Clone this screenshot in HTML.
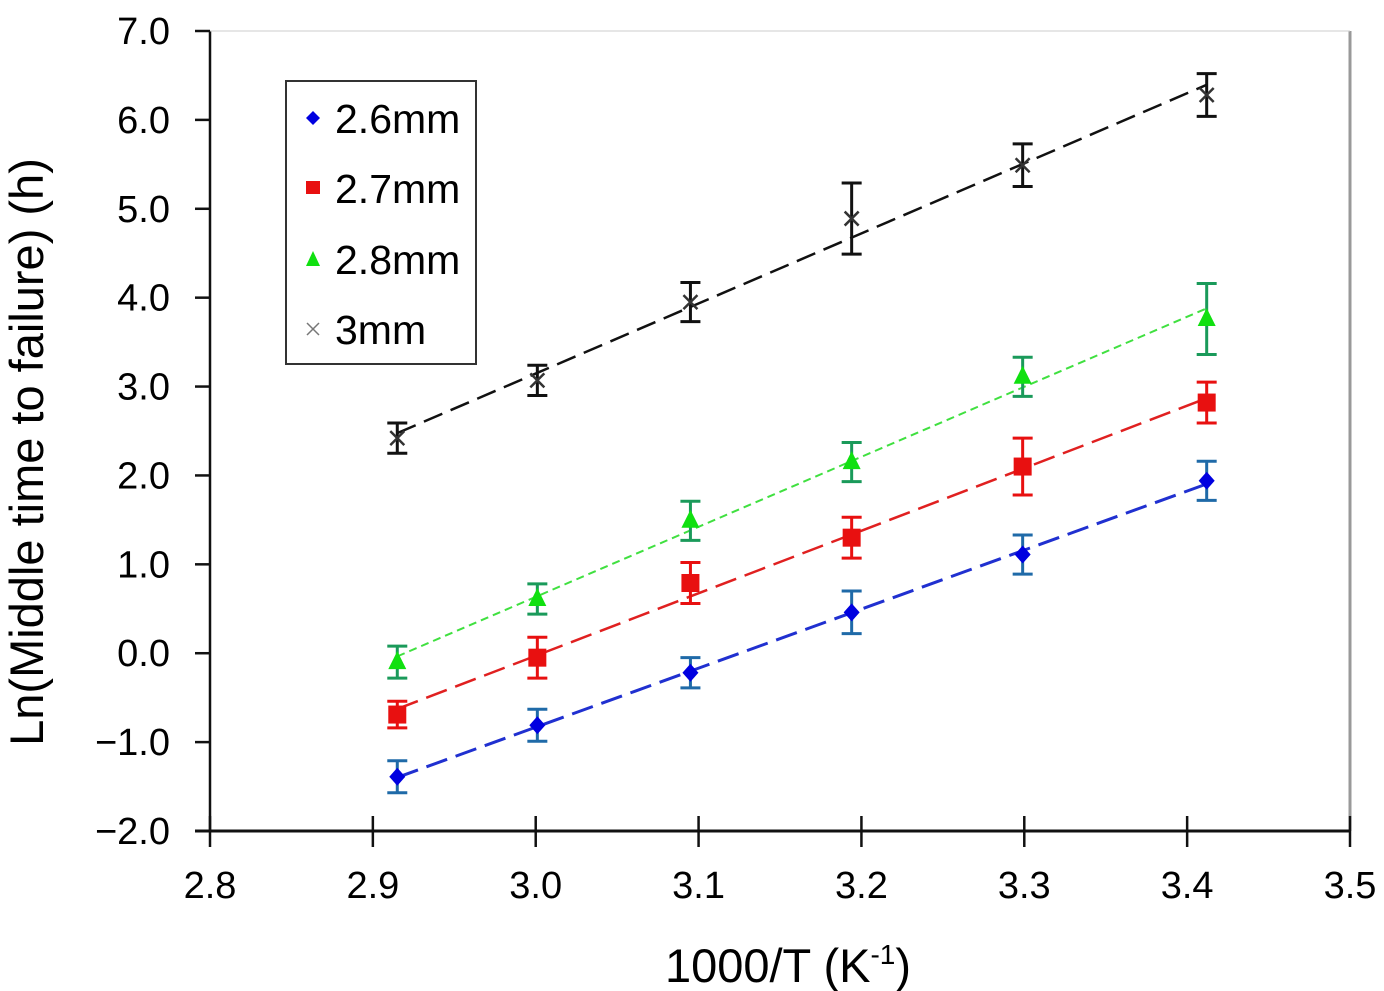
<!DOCTYPE html>
<html><head><meta charset="utf-8"><style>
body{margin:0;background:#fff}
svg{display:block;font-family:"Liberation Sans",Arial,sans-serif}
</style></head><body>
<svg id="chart" width="1384" height="991" viewBox="0 0 1384 991" xmlns="http://www.w3.org/2000/svg">
<g id="axes"></g>
<g id="series"></g>
<g>
<rect x="286" y="81" width="190" height="283" fill="#fff" stroke="#333" stroke-width="2"/>
<g><path d="M313 111 L320 118 L313 125 L306 118 Z" fill="#0000e0"/><text x="335" y="133" font-size="41">2.6mm</text></g>
<g><rect x="306" y="181" width="14" height="13" fill="#e81010"/><text x="335" y="203" font-size="41">2.7mm</text></g>
<g><path d="M313 251 L320 266 L306 266 Z" fill="#10e010"/><text x="335" y="274" font-size="41">2.8mm</text></g>
<g><path d="M307 323 L319 335 M319 323 L307 335" stroke="#777" stroke-width="1.5"/><text x="335" y="344" font-size="41">3mm</text></g>
</g>
<text x="788" y="982" font-size="47" text-anchor="middle">1000/T (K<tspan dy="-18" font-size="28">-1</tspan><tspan dy="18">)</tspan></text>
<text transform="translate(43,452) rotate(-90)" font-size="47" text-anchor="middle">Ln(Middle time to failure) (h)</text>
</svg>
<script>
const xVals=[2.915,3.001,3.095,3.194,3.299,3.412];
const blueY=[-1.39,-0.81,-0.22,0.46,1.11,1.94];
const blueErr=[0.18,0.18,0.17,0.24,0.22,0.22];
const redY=[-0.69,-0.05,0.79,1.30,2.10,2.82];
const redErr=[0.15,0.23,0.23,0.23,0.32,0.23];
const greenY=[-0.10,0.61,1.49,2.15,3.11,3.76];
const greenErr=[0.18,0.17,0.22,0.22,0.22,0.40];
const blackY=[2.42,3.07,3.95,4.89,5.49,6.28];
const blackErr=[0.17,0.17,0.22,0.40,0.24,0.24];
const xTicks=[2.8,2.9,3.0,3.1,3.2,3.3,3.4,3.5];
const xTickLabels=["2.8","2.9","3.0","3.1","3.2","3.3","3.4","3.5"];
const yTicks=[-2,-1,0,1,2,3,4,5,6,7];
const yTickLabels=["\u22122.0","\u22121.0","0.0","1.0","2.0","3.0","4.0","5.0","6.0","7.0"];

const NS="http://www.w3.org/2000/svg";
const L=210,R=1350,T=31,B=831;
const sx=v=>L+(v-2.8)/0.7*(R-L);
const sy=v=>T+(7-v)/9*(B-T);
function mk(tag,attrs,parent){const e=document.createElementNS(NS,tag);for(const k in attrs)e.setAttribute(k,attrs[k]);parent.appendChild(e);return e;}
const axes=document.getElementById('axes');
let e;
e=mk('line',{x1:L,y1:T,x2:L,y2:B,stroke:'#111','stroke-width':2.5},axes);


e=mk('line',{x1:R,y1:T,x2:R,y2:B,stroke:'#999','stroke-width':3},axes);


e=mk('line',{x1:L,y1:T,x2:R,y2:T,stroke:'#ccc','stroke-width':1},axes);


e=mk('line',{x1:195,y1:B,x2:R,y2:B,stroke:'#111','stroke-width':3},axes);


yTicks.forEach((v,i)=>{
  const y=sy(v);
  let t=mk('line',{x1:195,y1:y,x2:L,y2:y,stroke:'#111','stroke-width':2.5},axes);
  
  
  let tx=mk('text',{x:170,y:y+13,'font-size':38,'text-anchor':'end'},axes);
  tx.textContent=yTickLabels[i];
  
  
});
xTicks.forEach((v,i)=>{
  const x=sx(v);
  let t=mk('line',{x1:x,y1:816,x2:x,y2:847,stroke:'#111','stroke-width':2.5},axes);
  
  
  let tx=mk('text',{x:x,y:898,'font-size':38,'text-anchor':'middle'},axes);
  tx.textContent=xTickLabels[i];
  
  
});
function fit(xs,ys){const n=xs.length;const mx=xs.reduce((a,b)=>a+b)/n,my=ys.reduce((a,b)=>a+b)/n;let sxy=0,sxx=0;for(let i=0;i<n;i++){sxy+=(xs[i]-mx)*(ys[i]-my);sxx+=(xs[i]-mx)**2;}const m=sxy/sxx;return [m,my-m*mx];}
const sg=document.getElementById('series');
const series=[
 {name:'2-6mm',y:blueY,err:blueErr,line:'#2030d0',ec:'#1f6aa8',dash:'22 9',lw:3,mark:'diamond',mc:'#0000e0'},
 {name:'2-7mm',y:redY,err:redErr,line:'#e02020',ec:'#e81010',dash:'22 9',lw:2.5,mark:'square',mc:'#e81010'},
 {name:'2-8mm',y:greenY,err:greenErr,line:'#40e040',ec:'#1a9a5a',dash:'8 5',lw:2,mark:'triangle',mc:'#10e010'},
 {name:'3mm',y:blackY,err:blackErr,line:'#111',ec:'#111',dash:'20 9',lw:2.5,mark:'x',mc:'#333'}
];
series.forEach(s=>{
  const g=mk('g',{},sg);
  
  
  const [m,b]=fit(xVals,s.y);
  const x0=xVals[0],x1=xVals[xVals.length-1];
  let ln=mk('line',{x1:sx(x0),y1:sy(m*x0+b),x2:sx(x1),y2:sy(m*x1+b),stroke:s.line,'stroke-width':s.lw,'stroke-dasharray':s.dash},g);
  
  
  xVals.forEach((xv,i)=>{
    const x=sx(xv),y=sy(s.y[i]),yt=sy(s.y[i]+s.err[i]),yb=sy(s.y[i]-s.err[i]);
    let eb=mk('path',{d:`M${x} ${yt}V${yb}M${x-10} ${yt}H${x+10}M${x-10} ${yb}H${x+10}`,stroke:s.ec,'stroke-width':3,fill:'none'},g);
    
    
    let p;
    if(s.mark==='diamond')p=mk('path',{d:`M${x} ${y-9}L${x+8} ${y}L${x} ${y+9}L${x-8} ${y}Z`,fill:s.mc},g);
    else if(s.mark==='square')p=mk('rect',{x:x-9,y:y-9,width:18,height:18,fill:s.mc},g);
    else if(s.mark==='triangle')p=mk('path',{d:`M${x} ${y-11}L${x+9} ${y+7}L${x-9} ${y+7}Z`,fill:s.mc},g);
    else p=mk('path',{d:`M${x-7} ${y-7}L${x+7} ${y+7}M${x+7} ${y-7}L${x-7} ${y+7}`,stroke:s.mc,'stroke-width':2.5},g);
    
    
  });
});
</script>
</body></html>
